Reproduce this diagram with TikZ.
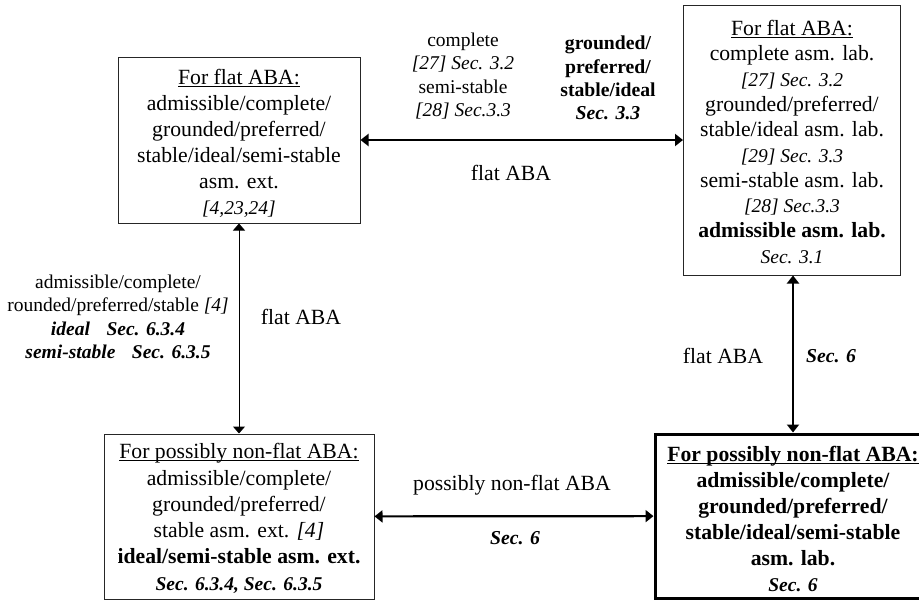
\documentclass[tikz,border=0pt]{standalone}
\usepackage{fontspec}
\setmainfont{Liberation Serif}
\usetikzlibrary{arrows.meta}

% text sizes used in the boxes and on the connectors
\newcommand\bigtxt{\fontsize{21.7}{26}\selectfont}
\newcommand\smalltxt{\fontsize{19.5}{23.3}\selectfont}
\newcommand\gap{\hspace{0.85em}}
% underline sitting just below the baseline, crossing the descenders
\newcommand\hdr[1]{\setbox0=\hbox{#1}\rlap{\rule[-2.6pt]{\wd0}{0.9pt}}\box0}
% invisible strut that lowers a text block inside its frame
\newcommand\lift[1]{\rule{0pt}{#1}}

\tikzset{
  abox/.style={draw=black!85, line width=1pt, inner sep=0pt, align=center, font=\bigtxt},
  heavybox/.style={abox, draw=black, line width=3pt},
  toplabel/.style={inner sep=0pt, align=center, font=\smalltxt},
  mainlabel/.style={inner sep=0pt, align=center, font=\bigtxt},
  thinlink/.style={{Triangle[length=7pt,width=12pt]}-{Triangle[length=7pt,width=12pt]}, line width=1pt},
  thicklink/.style={{Triangle[length=8pt,width=12pt]}-{Triangle[length=8pt,width=12pt]}, line width=2.2pt},
}

\begin{document}
\begin{tikzpicture}[x=1pt,y=-1pt]
\useasboundingbox (0,0) rectangle (919,600);
\clip (0,0) rectangle (919,600);

% ---------- boxes ----------
\node[abox, minimum width=242pt, minimum height=166pt] (flatext) at (239,140)
  {\lift{21pt}\hdr{For flat ABA:}\\
   admissible/complete/\\
   grounded/preferred/\\
   stable/ideal/semi-stable\\
   asm. ext.\\
   {\smalltxt\itshape [4,23,24]}};

\node[abox, minimum width=217pt, minimum height=270pt,
      font=\fontsize{21.7}{25.3}\selectfont] (flatlab) at (792,140)
  {\lift{19pt}\hdr{For flat ABA:}\\
   complete asm. lab.\\
   {\smalltxt\itshape [27] Sec. 3.2}\\
   grounded/preferred/\\
   stable/ideal asm. lab.\\
   {\smalltxt\itshape [29] Sec. 3.3}\\
   semi-stable asm. lab.\\
   {\smalltxt\itshape [28] Sec.3.3}\\
   \textbf{admissible asm. lab.}\\
   {\smalltxt\itshape Sec. 3.1}};

\node[abox, minimum width=270pt, minimum height=165pt,
      font=\fontsize{21.7}{26.3}\selectfont] (nfext) at (239,516.5)
  {\lift{19pt}\hdr{For possibly non-flat ABA:}\\
   admissible/complete/\\
   grounded/preferred/\\
   stable asm. ext. \textit{[4]}\\
   \textbf{ideal/semi-stable asm. ext.}\\
   {\smalltxt\bfseries\itshape Sec. 6.3.4, Sec. 6.3.5}};

\node[heavybox, minimum width=276pt, minimum height=164pt,
      font=\fontsize{21.7}{26.1}\selectfont\bfseries] (nflab) at (793,516)
  {\lift{21pt}\hdr{For possibly non-flat ABA:}\\
   admissible/complete/\\
   grounded/preferred/\\
   stable/ideal/semi-stable\\
   asm. lab.\\
   {\smalltxt\bfseries\itshape Sec. 6}};

% ---------- connectors ----------
\draw[thicklink] (flatext) -- (flatlab);
\draw[thinlink] (flatext) -- (nfext);
\draw[thicklink] (flatlab.south -| nflab.north) -- (nflab.north);
\draw[thicklink] (nfext) -- (nflab);

% ---------- connector labels ----------
\node[toplabel] (lblcomplete) at (463,76)
  {complete\\ \textit{[27] Sec. 3.2}\\ semi-stable\\ \textit{[28] Sec.3.3}};
\node[toplabel, font=\fontsize{19.7}{23.3}\selectfont\bfseries] (lblgrounded) at (608,78)
  {grounded/\\ preferred/\\ stable/ideal\\ \textit{Sec. 3.3}};
\node[mainlabel] (lbltop) at (511,173) {flat ABA};

\node[toplabel] (lblleft) at (118,317)
  {admissible/complete/\\
   rounded/preferred/stable \textit{[4]}\\
   \textbf{\textit{ideal\gap Sec. 6.3.4}}\\
   \textbf{\textit{semi-stable\gap Sec. 6.3.5}}};
\node[mainlabel] (lblleftflat) at (301,317) {flat ABA};

\node[mainlabel] (lblrightflat) at (723,356) {flat ABA};
\node[toplabel, font=\fontsize{19.7}{23.3}\selectfont\bfseries\itshape] (lblrightsec) at (831,356) {Sec. 6};

\node[mainlabel] (lblbottom) at (512,485) {possibly non-flat ABA};
\node[toplabel, font=\fontsize{19.7}{23.3}\selectfont\bfseries\itshape] (lblbottomsec) at (515,538) {Sec. 6};
\end{tikzpicture}
\end{document}
